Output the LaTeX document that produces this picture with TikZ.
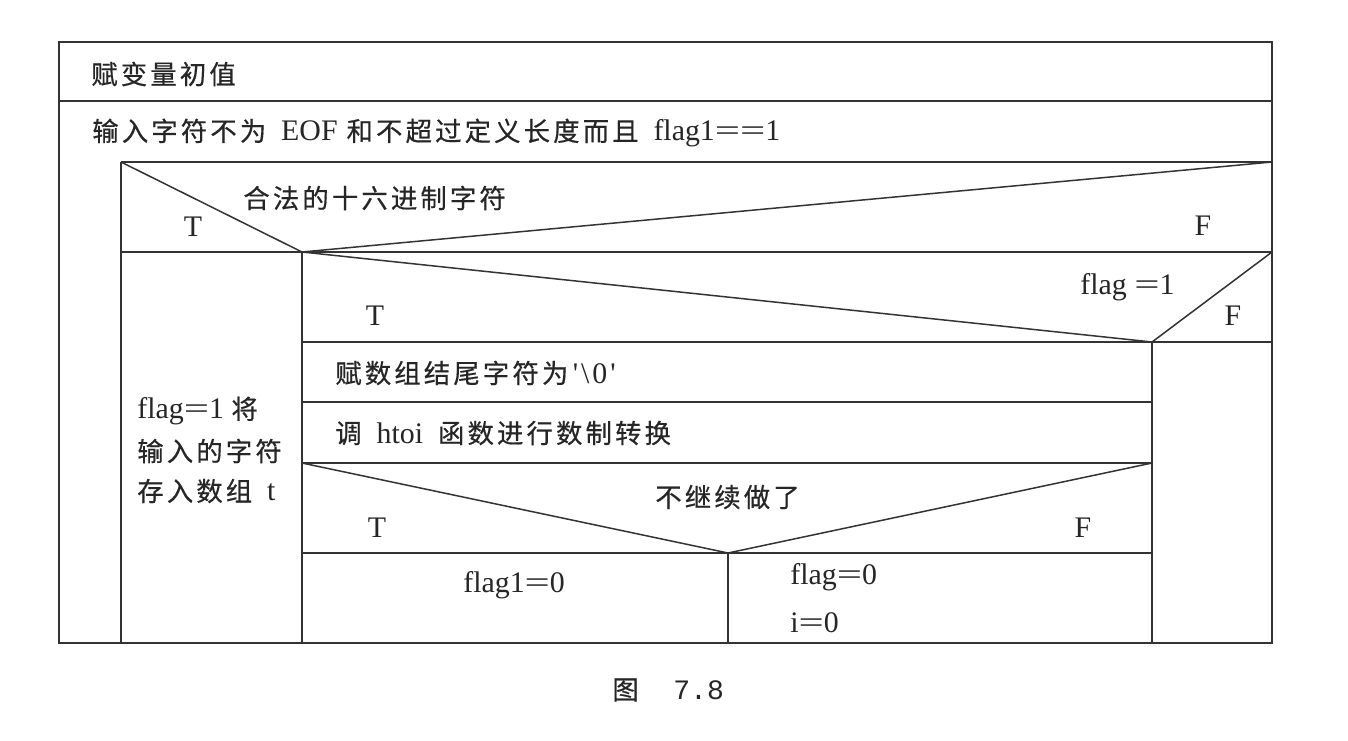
\documentclass[tikz,border=0pt]{standalone}
\usepackage{fontspec}
\usepackage{graphicx}
\setmainfont{Liberation Serif}
\newfontfamily\cjk[LetterSpace=12,FakeBold=0.5]{Noto Sans CJK SC}
\newfontfamily\capmono{Liberation Mono}
\newcommand\zh[1]{{\fontsize{15}{17}\cjk #1}}
\newcommand\eq{\scalebox{1.5}[1]{=}}
\newcommand\gap{\hspace{0.5em}}
\begin{document}
\begin{tikzpicture}[x=0.02cm,y=-0.02cm,
  ln/.style={draw=black!80,line width=0.85pt},
  txt/.style={font=\fontsize{17}{19}\selectfont,inner sep=0pt,anchor=west,text=black!85},
  ctxt/.style={font=\fontsize{17}{19}\selectfont,inner sep=0pt,anchor=center,text=black!85}]
\useasboundingbox[fill=white] (0,0) rectangle (1348,740);
% frame and structure
\draw[ln] (59,42) rectangle (1272,643);
\draw[ln] (59,101) -- (1272,101);
\draw[ln] (121,162) -- (1272,162);
\draw[ln] (121,162) -- (121,643);
\draw[ln] (121,252) -- (1272,252);
\draw[ln] (121,162) -- (302,252) -- (1272,162);
\draw[ln] (302,252) -- (302,643);
\draw[ln] (302,252) -- (1152,342) -- (1272,252);
\draw[ln] (302,342) -- (1272,342);
\draw[ln] (1152,342) -- (1152,643);
\draw[ln] (302,402) -- (1152,402);
\draw[ln] (302,463) -- (1152,463);
\draw[ln] (302,463) -- (728,553) -- (1152,463);
\draw[ln] (302,553) -- (1152,553);
\draw[ln] (728,553) -- (728,643);
% texts
\node[txt] (init) at (91,74) {\zh{赋变量初值}};
\node[txt] (loop) at (92,133) {\zh{输入字符不为}\gap EOF\hspace{0.3em}\zh{和不超过定义长度而且}\gap flag1\eq\eq1};
\node[txt] (c1) at (243,198) {\zh{合法的十六进制字符}};
\node[ctxt] (t1) at (193,227) {T};
\node[ctxt] (f1) at (1203,226) {F};
\node[txt] (c2) at (1080,287) {flag \eq1};
\node[ctxt] (t2) at (375,316) {T};
\node[ctxt] (f2) at (1233,316) {F};
\node[txt] (s1) at (335,373) {\zh{赋数组结尾字符为}\hspace{0.15em}\textquotesingle\hspace{0.1em}\textbackslash\hspace{0.1em}0\hspace{0.1em}\textquotesingle};
\node[txt] (s2) at (335,433) {\zh{调}\gap htoi\gap\zh{函数进行数制转换}};
\node[txt] (c3) at (655,497) {\zh{不继续做了}};
\node[ctxt] (t3) at (377,528) {T};
\node[ctxt] (f3) at (1083,528) {F};
\node[txt] (a1) at (463,585) {flag1\eq0};
\node[txt] (b1) at (790,577) {flag\eq0};
\node[txt] (b2) at (790,623) {i\eq0};
\node[txt] (l1) at (137,411) {flag\eq1 \zh{将}};
\node[txt] (l2) at (137,451) {\zh{输入的字符}};
\node[txt] (l3) at (137,491) {\zh{存入数组}\gap t};
\node[txt] (cap1) at (612,690) {\zh{图}};
\node[txt,font=\fontsize{16}{18}\capmono] (cap2) at (673,690) {7.8};
\end{tikzpicture}
\end{document}
